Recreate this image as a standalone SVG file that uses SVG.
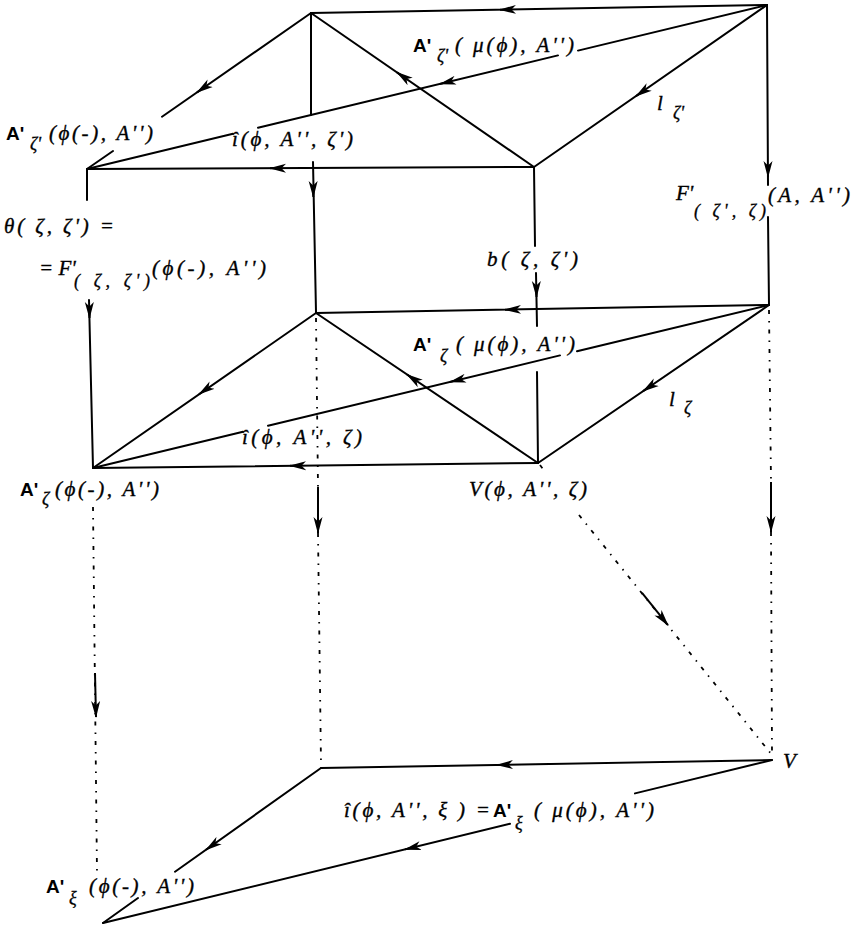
<svg xmlns="http://www.w3.org/2000/svg" width="852" height="926" viewBox="0 0 852 926">
<style>
.ln{stroke:#000;stroke-width:2;fill:none;stroke-linecap:round}
.ds{stroke:#000;stroke-width:1.8;fill:none;stroke-dasharray:4 7 1.5 7}
.ar{stroke:#000;stroke-width:2;fill:none;marker-end:url(#ah)}
.m{font-family:"Liberation Serif","DejaVu Serif",serif;font-style:italic;font-size:21px;fill:#000;stroke:#000;stroke-width:0.35}
.s{font-family:"Liberation Serif","DejaVu Serif",serif;font-style:italic;font-size:18px;fill:#000;stroke:#000;stroke-width:0.3}
.b{font-family:"Liberation Sans",Arial,sans-serif;font-weight:bold;font-size:19px;fill:#000}
</style>
<defs>
<marker id="ah" markerUnits="userSpaceOnUse" markerWidth="17" markerHeight="10" viewBox="0 0 17 10" refX="16" refY="5" orient="auto">
<path d="M0,0.5 L17,5 L0,9.5 L4.5,5 Z" fill="#000"/>
</marker>
</defs>
<rect width="852" height="926" fill="#fff"/>
<g id="connectors">
<path class="ln" d="M767,5 L311,13"/>
<path class="ar" d="M510,9.5 L500,9.7"/>
<path class="ln" d="M311,13 L162,116.8 M113,151 L87,169"/>
<path class="ar" d="M205.2,86.7 L197,92.4"/>
<path class="ln" d="M534,167 L311,13"/>
<path class="ar" d="M405.2,78.1 L397,72.4"/>
<path class="ln" d="M311,13 L311,115 M313,162 L316,312"/>
<path class="ar" d="M313.2,187 L313.3,197"/>
<path class="ln" d="M767,5 L534,167"/>
<path class="ar" d="M644.2,90.4 L636,96.1"/>
<path class="ln" d="M767,5 L578,50.6 M558,55.4 L258,127.8 M233,133.8 L87,169"/>
<path class="ar" d="M449.7,81.6 L440,83.9"/>
<path class="ln" d="M534,167 L87,169"/>
<path class="ar" d="M280,168.2 L270,168.2"/>
<path class="ln" d="M87,169 L87,200 M89,300 L93,468"/>
<path class="ar" d="M89.4,308 L89.5,318"/>
<path class="ln" d="M534,167 L535,246 M536,273 L537,326 M537,372 L538,463"/>
<path class="ar" d="M536.4,287 L536.5,297"/>
<path class="ln" d="M767,5 L768,185 M768,217 L769,305"/>
<path class="ar" d="M768,167 L768,177"/>
<path class="ln" d="M769,305 L316,313"/>
<path class="ar" d="M515,309.5 L505,309.7"/>
<path class="ln" d="M316,313 L93,468"/>
<path class="ar" d="M207.2,388.6 L199,394.3"/>
<path class="ln" d="M538,463 L316,313"/>
<path class="ar" d="M415.3,380.1 L407,374.5"/>
<path class="ln" d="M769,305 L538,463"/>
<path class="ar" d="M651.3,385.6 L643,391.2"/>
<path class="ln" d="M769,305 L577,351.3 M560,355.4 L268,425.8 M243,431.8 L93,468"/>
<path class="ar" d="M459.7,379.6 L450,381.9"/>
<path class="ln" d="M538,463 L93,468"/>
<path class="ar" d="M300,465.7 L290,465.8"/>
<path class="ds" d="M93,507 L97,873"/>
<path class="ar" d="M95,673 L96,717"/>
<path class="ds" d="M316,318 L318,487 M318,533 L321,764"/>
<path class="ar" d="M318,487 L318,533"/>
<path class="ds" d="M769,310 L771,482 M771,532 L772,754"/>
<path class="ar" d="M771,482 L771,532"/>
<path class="ds" d="M540,465 L546,473 M579,515 L772,755"/>
<path class="ar" d="M642,592.8 L668,625.2"/>
<path class="ln" d="M772,760 L321,768"/>
<path class="ar" d="M507,764.7 L497,764.9"/>
<path class="ln" d="M321,768 L175,871.7 M138,898 L103,923"/>
<path class="ar" d="M214.2,844 L206,849.8"/>
<path class="ln" d="M772,760 L635,793.4 M510,823.8 L103,923"/>
<path class="ar" d="M414.7,847 L405,849.4"/>
</g>
<g id="edge-labels">
<g id="lbl-top-mu">
<text class="b" x="413" y="52">A'</text>
<text class="s" x="437" y="62">ζ'</text>
<text class="m" x="455" y="52" textLength="119" lengthAdjust="spacing">( μ(ϕ), A'')</text>
</g>
<text id="lbl-top-i" class="m" x="232" y="146" textLength="121" lengthAdjust="spacing">î(ϕ, A'', ζ')</text>
<g id="lbl-l-top"><text class="m" x="657" y="110">l</text><text class="s" x="673" y="119">ζ'</text></g>
<g id="lbl-F-right">
<text class="m" x="676" y="200">F'</text>
<text class="s" x="694" y="217" textLength="72" lengthAdjust="spacing">( ζ', ζ)</text>
<text class="m" x="768" y="202" textLength="82" lengthAdjust="spacing">(A, A'')</text>
</g>
<g id="lbl-theta">
<text class="m" x="4" y="233" textLength="110" lengthAdjust="spacing">θ( ζ, ζ') =</text>
<text class="m" x="39" y="275">= F'</text>
<text class="s" x="74" y="287" textLength="76" lengthAdjust="spacing">( ζ, ζ')</text>
<text class="m" x="152" y="275" textLength="114" lengthAdjust="spacing">(ϕ(-), A'')</text>
</g>
<text id="lbl-b" class="m" x="487" y="266" textLength="91" lengthAdjust="spacing">b( ζ, ζ')</text>
<g id="lbl-mid-mu">
<text class="b" x="413" y="351">A'</text>
<text class="s" x="440" y="362">ζ</text>
<text class="m" x="456" y="351" textLength="119" lengthAdjust="spacing">( μ(ϕ), A'')</text>
</g>
<text id="lbl-mid-i" class="m" x="242" y="444" textLength="120" lengthAdjust="spacing">î(ϕ, A'', ζ)</text>
<g id="lbl-l-mid"><text class="m" x="669" y="406">l</text><text class="s" x="684" y="414">ζ</text></g>
<g id="lbl-bottom-i">
<text class="m" x="344" y="817" textLength="146" lengthAdjust="spacing">î(ϕ, A'', ξ ) =</text>
<text class="b" x="493" y="817">A'</text>
<text class="s" x="515" y="829">ξ</text>
<text class="m" x="534" y="817" textLength="120" lengthAdjust="spacing">( μ(ϕ), A'')</text>
</g>
</g>
<g id="node-top-left">
<text class="b" x="6" y="140">A'</text>
<text class="s" x="30" y="150">ζ'</text>
<text class="m" x="49" y="140" textLength="104" lengthAdjust="spacing">(ϕ(-), A'')</text>
</g>
<g id="node-mid-left">
<text class="b" x="20" y="496">A'</text>
<text class="s" x="42" y="505">ζ</text>
<text class="m" x="55" y="496" textLength="104" lengthAdjust="spacing">(ϕ(-), A'')</text>
</g>
<g id="node-mid-V">
<text class="m" x="469" y="496" textLength="118" lengthAdjust="spacing">V(ϕ, A'', ζ)</text>
</g>
<g id="node-V">
<text class="m" x="783" y="768">V</text>
</g>
<g id="node-bottom-left">
<text class="b" x="46" y="893">A'</text>
<text class="s" x="69" y="904">ξ</text>
<text class="m" x="89" y="893" textLength="105" lengthAdjust="spacing">(ϕ(-), A'')</text>
</g>
</svg>
